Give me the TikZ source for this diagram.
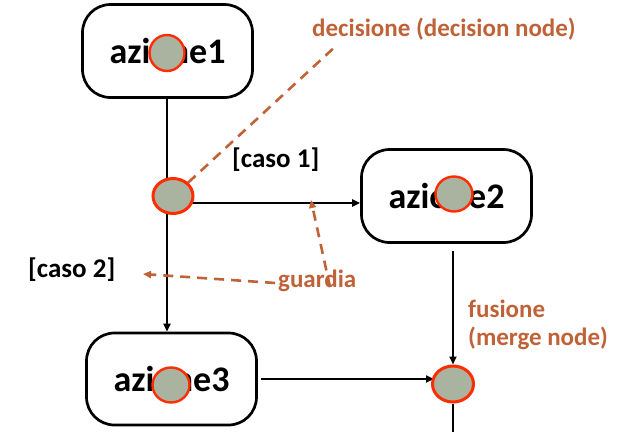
\documentclass[tikz,border=0pt]{standalone}
\usepackage{fontspec}
\setmainfont{Carlito}
\usetikzlibrary{arrows.meta,shapes.geometric,backgrounds}
\definecolor{guard}{RGB}{192,98,56}
\definecolor{nodefill}{RGB}{170,178,160}
\definecolor{nodeedge}{RGB}{255,45,0}
\tikzset{
  actbox/.style={draw=black,line width=2.7pt,rounded corners=28pt,minimum width=170pt,minimum height=93pt,inner sep=0pt,font=\fontsize{36}{40}\selectfont\bfseries},
  ctrl/.style={ellipse,draw=nodeedge,fill=nodefill,line width=3pt,inner sep=0pt},
  cover/.style={ellipse,draw=nodeedge,fill=nodefill,line width=2.4pt,inner sep=0pt},
  flow/.style={draw=black,line width=2.4pt,-{Triangle[length=8pt,width=7pt]}},
  flowplain/.style={draw=black,line width=2.4pt},
  note/.style={guard,line width=2.6pt,dash pattern=on 10pt off 7pt},
  notearrow/.style={note,-{Triangle[length=8pt,width=7pt]}},
  guardtext/.style={text=guard,font=\fontsize{25}{29}\selectfont\bfseries,inner sep=0pt,anchor=base west,align=left},
  casetext/.style={text=black,font=\fontsize{27}{30}\selectfont\bfseries,inner sep=0pt,anchor=base west}
}
\begin{document}
\begin{tikzpicture}[x=1pt,y=-1pt]
\useasboundingbox (0,0) rectangle (625,432);
% action boxes
\node[actbox] (a1) at (167.5,51) {azione1};
\node[actbox] (a2) at (446.5,196) {azione2};
\node[actbox,minimum height=92pt] (a3) at (171.5,379) {azione3};
% covering ellipses over the texts
\node[cover,minimum width=35pt,minimum height=36pt] (c1) at (167,53) {};
\node[cover,minimum width=37pt,minimum height=35pt] (c2) at (454,194) {};
\node[cover,minimum width=37pt,minimum height=35pt] (c3) at (171,385) {};
% decision and merge nodes
\node[ctrl,minimum width=40pt,minimum height=35pt] (dec) at (173,196) {};
\node[ctrl,minimum width=41pt,minimum height=36pt] (merge) at (453,384) {};
\coordinate (bot) at (453,432);
\coordinate (dtip) at (337,45);
% labels
\node[guardtext] (dlab) at (312,36) {decisione (decision node)};
\node[casetext] (k1) at (232,167) {[caso 1]};
\node[casetext] (k2) at (28,277) {[caso 2]};
\node[guardtext] (g) at (278,287) {guardia};
\node[guardtext] (flab) at (468,345) {fusione\\[-1pt](merge node)};
\coordinate (g1s) at (330,287);
\coordinate (g1t) at (311,200);
\coordinate (g2s) at (275,283);
\coordinate (g2t) at (143,274);
% connectors
\begin{pgfonlayer}{background}
\draw[flow] (a1.south -| 167,0) -- (a3.north -| 167,0);
\draw[flow] ([yshift=-7pt]dec.center) -- ([yshift=-7pt]dec.center -| a2.west);
\draw[flow] ([yshift=-7pt]merge.north |- a2.south) -- (merge.north);
\draw[flow] ([xshift=3pt]a3.east) -- ([xshift=3pt]a3.east -| merge.west);
\draw[flowplain] (merge.south) -- (bot);
\end{pgfonlayer}
\draw[note] (dec.north east) -- (dtip);
\draw[notearrow] (g1s) -- (g1t);
\draw[notearrow] (g2s) -- (g2t);
\end{tikzpicture}
\end{document}
